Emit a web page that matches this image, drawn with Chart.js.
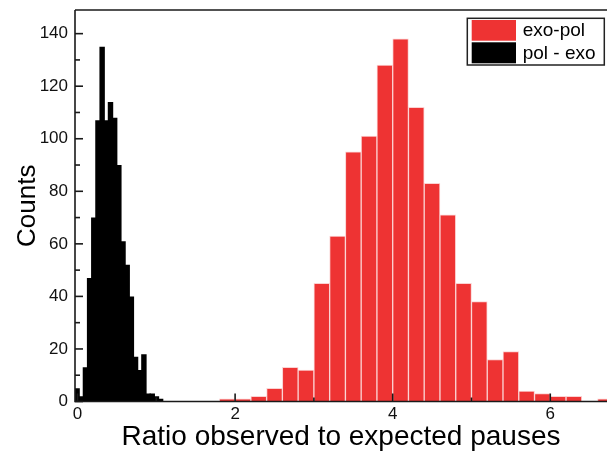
<!DOCTYPE html>
<html>
<head>
<meta charset="utf-8">
<script src="https://cdn.jsdelivr.net/npm/chart.js@4.4.1/dist/chart.umd.min.js"></script>
<style>
  html, body { margin: 0; padding: 0; background: #fff; }
  canvas { display: block; }
</style>
</head>
<body>
<canvas id="hist" width="607" height="458"></canvas>
<script>
// Histogram bins (bin centres) and counts for each pause-ratio distribution
const exoPolBins = [1.9, 2.1, 2.3, 2.5, 2.7, 2.9, 3.1, 3.3, 3.5, 3.7, 3.9, 4.1, 4.3,
                    4.5, 4.7, 4.9, 5.1, 5.3, 5.5, 5.7, 5.9, 6.1, 6.3, 6.5, 6.7];
const exoPolCounts = [1, 1, 2, 5, 13, 12, 45, 63, 95, 101, 128, 138, 112,
                      83, 71, 45, 38, 16, 19, 4, 3, 2, 2, 0, 1];

const polExoBins = [-0.0055, 0.0475, 0.1005, 0.1535, 0.2065, 0.2595, 0.3125,
                    0.3655, 0.4185, 0.4715, 0.5245, 0.5775, 0.6305, 0.6835,
                    0.7365, 0.7895, 0.8425, 0.8955, 0.9485, 1.0015, 1.0545];
const polExoCounts = [5, 2, 13, 47, 70, 107, 135, 107, 114, 108, 90,
                      61, 52, 40, 17, 12, 18, 3, 3, 2, 1];

const seriesNames = ['exo-pol', 'pol - exo'];
const xTickValues = [0, 2, 4, 6];
const yTickValues = [0, 20, 40, 60, 80, 100, 120, 140];
const xMinorStep = 1;
const yMinorStep = 10;
const xTitle = 'Ratio observed to expected pauses';
const yTitle = 'Counts';

const X_MIN = -0.032, X_MAX = 6.72, Y_MIN = 0, Y_MAX = 149;

const toPoints = (xs, ys) => xs.map((x, i) => ({ x: x, y: ys[i] }));

Chart.defaults.font.family = '"Liberation Sans", Arial, sans-serif';
Chart.defaults.color = '#111';

// Inward tick marks, axis lines, top frame line and the boxed legend
const framePlugin = {
  id: 'frame',
  afterDatasetsDraw(chart) {
    const { ctx, chartArea: a, scales } = chart;
    const xs = scales.x, ys = scales.y;
    ctx.save();
    ctx.strokeStyle = '#1a1a1a';
    ctx.lineWidth = 1.6;

    // y ticks (major at labelled values, minor between)
    for (let v = Y_MIN; v <= Y_MAX; v += yMinorStep) {
      const py = ys.getPixelForValue(v);
      const len = yTickValues.includes(v) ? 8 : 5;
      ctx.beginPath();
      ctx.moveTo(a.left, py);
      ctx.lineTo(a.left + len, py);
      ctx.stroke();
    }
    // x ticks
    for (let v = 0; v <= X_MAX; v += xMinorStep) {
      const px = xs.getPixelForValue(v);
      const len = xTickValues.includes(v) ? 8 : 4;
      ctx.beginPath();
      ctx.moveTo(px, a.bottom);
      ctx.lineTo(px, a.bottom - len);
      ctx.stroke();
    }

    // axis lines and top frame
    ctx.beginPath();
    ctx.moveTo(a.left, a.top);
    ctx.lineTo(a.left, a.bottom);
    ctx.lineTo(a.right, a.bottom);
    ctx.moveTo(a.left, a.top);
    ctx.lineTo(a.right, a.top);
    ctx.stroke();

    // legend box
    const boxL = a.right - 139.7, boxT = a.top + 8.3, boxW = 137, boxH = 46.7;
    ctx.lineWidth = 1.5;
    ctx.strokeStyle = '#222';
    ctx.fillStyle = '#fff';
    ctx.fillRect(boxL, boxT, boxW, boxH);
    ctx.strokeRect(boxL, boxT, boxW, boxH);
    const rows = [{ y: boxT + 1.7, h: 20.7 }, { y: boxT + 24, h: 21 }];
    chart.data.datasets.forEach((ds, i) => {
      const r = rows[i];
      ctx.fillStyle = ds.legendColor;
      ctx.fillRect(boxL + 4.4, r.y, 44.3, r.h);
      ctx.fillStyle = '#000';
      ctx.font = '19px "Liberation Sans", Arial, sans-serif';
      ctx.textBaseline = 'middle';
      ctx.textAlign = 'left';
      ctx.fillText(ds.label, boxL + 55.4, r.y + r.h / 2 + 0.5);
    });
    ctx.restore();
  }
};

new Chart(document.getElementById('hist'), {
  type: 'bar',
  data: {
    datasets: [
      {
        label: seriesNames[0],
        data: toPoints(exoPolBins, exoPolCounts),
        xAxisID: 'x',
        grouped: false,
        backgroundColor: '#ee3333',
        borderColor: '#fbd2d2',
        borderWidth: 1,
        legendColor: '#ee3333',
        barPercentage: 1,
        categoryPercentage: 1
      },
      {
        label: seriesNames[1],
        data: toPoints(polExoBins, polExoCounts),
        xAxisID: 'x2',
        grouped: false,
        backgroundColor: '#000',
        borderWidth: 0,
        legendColor: '#000',
        barPercentage: 1.3,
        categoryPercentage: 1
      }
    ]
  },
  options: {
    responsive: false,
    animation: false,
    devicePixelRatio: 1,
    layout: { padding: { top: 10, left: 0, right: 0, bottom: 0 } },
    plugins: { legend: { display: false }, tooltip: { enabled: false } },
    scales: {
      x: {
        type: 'linear',
        position: 'bottom',
        min: X_MIN, max: X_MAX,
        offset: false,
        grid: { display: false, drawTicks: false },
        border: { display: false },
        ticks: { font: { size: 17 }, color: '#111', padding: 3, maxRotation: 0, autoSkip: false, includeBounds: false },
        afterBuildTicks: s => { s.ticks = xTickValues.map(v => ({ value: v })); },
        title: { display: true, text: xTitle, font: { size: 28 }, color: '#000', padding: { top: 0, bottom: 4 } },
        afterFit: s => { s.height = 56.5; s.paddingLeft = 0; s.paddingRight = 0; }
      },
      x2: {
        type: 'linear',
        position: 'bottom',
        display: false,
        min: X_MIN, max: X_MAX,
        offset: false
      },
      y: {
        type: 'linear',
        min: Y_MIN, max: Y_MAX,
        grid: { display: false, drawTicks: false },
        border: { display: false },
        ticks: { font: { size: 17 }, color: '#111', padding: 7, includeBounds: false },
        afterBuildTicks: s => { s.ticks = yTickValues.map(v => ({ value: v })); },
        title: { display: true, text: yTitle, font: { size: 26 }, color: '#000', padding: { top: 12, bottom: 0 } },
        afterFit: s => { s.width = 75; s.paddingTop = 0; s.paddingBottom = 0; }
      }
    }
  },
  plugins: [framePlugin]
});
</script>
</body>
</html>
